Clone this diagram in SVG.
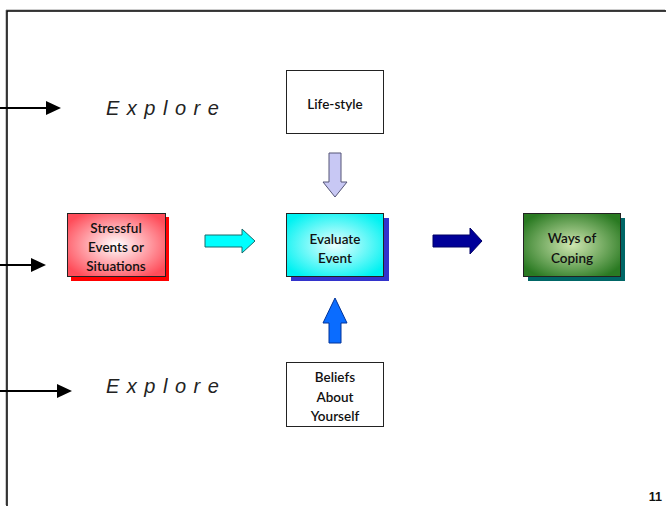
<svg xmlns="http://www.w3.org/2000/svg" width="666" height="506" viewBox="0 0 666 506">
<style>
.lbl{font-family:Lato,"Noto Sans",sans-serif;font-size:13.5px;font-weight:600;fill:#111;text-anchor:middle}
.exp{font-family:"Liberation Sans",Arial,sans-serif;font-size:20px;font-style:italic;fill:#222;letter-spacing:7.5px}
.box{stroke:#222;stroke-width:1}
.con{stroke:#000;stroke-width:2;fill:none}
</style>
<defs>
<radialGradient id="gRed" cx="0.5" cy="0.5" r="0.6"><stop offset="0" stop-color="#ffffff"/><stop offset="1" stop-color="#ff4d5a"/></radialGradient>
<radialGradient id="gCyan" cx="0.5" cy="0.5" r="0.6"><stop offset="0" stop-color="#eaffff"/><stop offset="1" stop-color="#00f2f2"/></radialGradient>
<radialGradient id="gGreen" cx="0.5" cy="0.5" r="0.6"><stop offset="0" stop-color="#cfe6b0"/><stop offset="1" stop-color="#2a7a22"/></radialGradient>
</defs>
<rect width="666" height="506" fill="#fff"/>
<g id="frame">
<path d="M7,506V11H666" fill="none" stroke="#999" stroke-width="1" transform="translate(-1,-1)"/>
<path d="M7,506V11H666" fill="none" stroke="#000" stroke-width="1.5"/>
</g>
<g id="connectors">
<line class="con" x1="0" y1="108" x2="46" y2="108"/><path d="M46,101L61,108L46,115z" fill="#000"/>
<line class="con" x1="0" y1="265" x2="31" y2="265"/><path d="M31,258L46,265L31,272z" fill="#000"/>
<line class="con" x1="0" y1="391" x2="57" y2="391"/><path d="M57,384L72,391L57,398z" fill="#000"/>
<path d="M205,235H242V229L255,241L242,253V247H205z" fill="#00ffff" stroke="#1a6a6a" stroke-width="1"/>
<path d="M433,235H470V228L482,241L470,254V247H433z" fill="#000099" stroke="#000066" stroke-width="1"/>
<path d="M329,153H341V182H347L335,197L323,182H329z" fill="#c8c8f4" stroke="#555577" stroke-width="1"/>
<path d="M329,343V323H323L335,298L347,323H341V343z" fill="#0a6cff" stroke="#003399" stroke-width="1"/>
</g>
<g id="explore1"><text class="exp" x="106" y="115">Explore</text></g>
<g id="explore2"><text class="exp" x="106" y="393">Explore</text></g>
<g id="lifestyle">
<rect class="box" x="286.5" y="70.5" width="97" height="63" fill="#fff"/>
<text class="lbl" x="335" y="109">Life-style</text>
</g>
<g id="stressful">
<rect x="71" y="217" width="98" height="64" fill="#ff0000"/>
<rect class="box" x="67.5" y="213.5" width="98" height="63" fill="url(#gRed)"/>
<text class="lbl" x="116" y="233">Stressful</text>
<text class="lbl" x="116" y="252">Events or</text>
<text class="lbl" x="116" y="271">Situations</text>
</g>
<g id="evaluate">
<rect x="291" y="218" width="98" height="63" fill="#3333cc"/>
<rect class="box" x="286.5" y="213.5" width="97" height="63" fill="url(#gCyan)"/>
<text class="lbl" x="335" y="244">Evaluate</text>
<text class="lbl" x="335" y="263">Event</text>
</g>
<g id="coping">
<rect x="528" y="218" width="97" height="63" fill="#006666"/>
<rect class="box" x="523.5" y="213.5" width="97" height="63" fill="url(#gGreen)"/>
<text class="lbl" x="572" y="243">Ways of</text>
<text class="lbl" x="572" y="263">Coping</text>
</g>
<g id="beliefs">
<rect class="box" x="286.5" y="362.5" width="97" height="64" fill="#fff"/>
<text class="lbl" x="335" y="382">Beliefs</text>
<text class="lbl" x="335" y="402">About</text>
<text class="lbl" x="335" y="421">Yourself</text>
</g>
<g id="pagenum"><text x="662" y="501" font-family="Liberation Sans,Arial,sans-serif" font-size="12.5" font-weight="bold" fill="#111" text-anchor="end">11</text></g>
</svg>
